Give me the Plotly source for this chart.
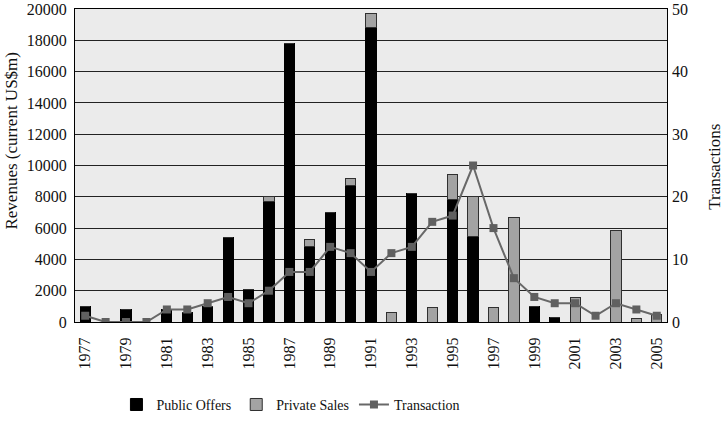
import plotly.graph_objects as go

years = list(range(1977, 2006))
public_offers = [1000, 0, 800, 0, 800, 600, 1000, 5400, 2050, 7700, 17800, 4800, 7000, 8750,
                 18850, 0, 8200, 0, 7800, 5450, 0, 0, 1000, 300, 0, 0, 0, 0, 0]
private_sales = [0, 0, 0, 0, 0, 0, 0, 0, 0, 350, 0, 480, 0, 430,
                 850, 600, 0, 900, 1650, 2550, 950, 6650, 0, 0, 1550, 0, 5850, 200, 500]
transactions = [1, 0, 0, 0, 2, 2, 3, 4, 3, 5, 8, 8, 12, 11,
                8, 11, 12, 16, 17, 25, 15, 7, 4, 3, 3, 1, 3, 2, 1]
tick_years = list(range(1977, 2006, 2))

FONT = "Liberation Serif"

fig = go.Figure()
fig.add_trace(go.Bar(x=years, y=public_offers, name="Public Offers", width=0.5,
                     marker=dict(color="#000000", line=dict(color="#000000", width=1))))
fig.add_trace(go.Bar(x=years, y=private_sales, name="Private Sales", width=0.5,
                     marker=dict(color="#a3a3a3", line=dict(color="#303030", width=1))))
fig.add_trace(go.Scatter(x=years, y=transactions, name="Transaction", yaxis="y2",
                         mode="lines+markers",
                         line=dict(color="#686868", width=2),
                         marker=dict(symbol="square", size=8, color="#606060")))

fig.update_layout(
    width=724, height=428,
    margin=dict(l=75, r=57, t=9, b=106),
    barmode="stack",
    paper_bgcolor="white",
    plot_bgcolor="#ebebeb",
    font=dict(family=FONT, size=16, color="#111111"),
    showlegend=True,
    legend=dict(orientation="h", x=0.07, xanchor="left", xref="paper",
                y=0.054, yanchor="middle", yref="container",
                font=dict(family=FONT, size=14), itemwidth=30,
                traceorder="normal"),
    xaxis=dict(range=[1976.5, 2005.5], tickmode="array", tickvals=tick_years,
               ticktext=[str(y) for y in tick_years], tickangle=-90,
               showgrid=False, showline=True, linecolor="#000000", linewidth=1,
               mirror=True, ticks="", zeroline=False, automargin=False,
               ticklabelstandoff=8),
    yaxis=dict(range=[0, 20000], dtick=2000, showgrid=True, gridcolor="#222222",
               gridwidth=1, showline=True, linecolor="#000000", linewidth=1,
               mirror=True, ticks="", zeroline=False, tickformat="d", automargin=False,
               ticklabelstandoff=4),
    yaxis2=dict(range=[0, 50], dtick=10, overlaying="y", side="right",
                showgrid=False, showline=False, ticks="", zeroline=False,
                automargin=False, ticklabelstandoff=4),
    annotations=[
        dict(text="Revenues (current US$m)", textangle=-90, xref="paper", yref="paper",
             x=-0.108, y=0.58, xanchor="center", yanchor="middle", showarrow=False,
             font=dict(family=FONT, size=17)),
        dict(text="Transactions", textangle=-90, xref="paper", yref="paper",
             x=1.08, y=0.497, xanchor="center", yanchor="middle", showarrow=False,
             font=dict(family=FONT, size=17)),
    ],
)

fig.write_html("out.html")
